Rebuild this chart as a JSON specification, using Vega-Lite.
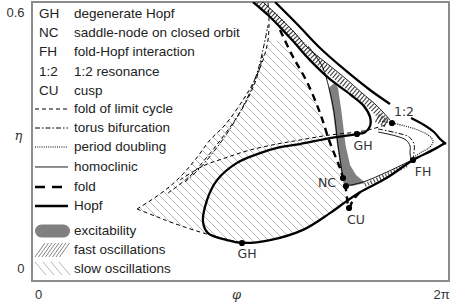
{
  "$schema": "https://vega.github.io/schema/vega-lite/v6.json",
  "width": 417,
  "height": 279,
  "autosize": {"type": "none"},
  "padding": {"left": 32, "top": 2, "right": 6, "bottom": 21},
  "background": "white",
  "config": {"view": {"stroke": "#8c8c8c", "strokeWidth": 2}, "font": "Liberation Sans"},
  "datasets": {
    "curves": [
      {"c":"H1","k":"hopf","i":1,"phi":3.330,"eta":0.600},
      {"c":"H1","k":"hopf","i":2,"phi":3.556,"eta":0.572},
      {"c":"H1","k":"hopf","i":3,"phi":3.737,"eta":0.546},
      {"c":"H1","k":"hopf","i":4,"phi":3.933,"eta":0.516},
      {"c":"H1","k":"hopf","i":5,"phi":4.189,"eta":0.475},
      {"c":"H1","k":"hopf","i":6,"phi":4.490,"eta":0.434},
      {"c":"H1","k":"hopf","i":7,"phi":4.807,"eta":0.400},
      {"c":"H1","k":"hopf","i":8,"phi":5.003,"eta":0.376},
      {"c":"H1","k":"hopf","i":9,"phi":5.093,"eta":0.353},
      {"c":"H1","k":"hopf","i":10,"phi":5.093,"eta":0.333},
      {"c":"H1","k":"hopf","i":11,"phi":5.018,"eta":0.320},
      {"c":"H1","k":"hopf","i":12,"phi":4.897,"eta":0.316},
      {"c":"H1","k":"hopf","i":13,"phi":4.490,"eta":0.3075},
      {"c":"H1","k":"hopf","i":14,"phi":4.038,"eta":0.2946},
      {"c":"H1","k":"hopf","i":15,"phi":3.737,"eta":0.288},
      {"c":"H1","k":"hopf","i":16,"phi":3.436,"eta":0.275},
      {"c":"H1","k":"hopf","i":17,"phi":3.089,"eta":0.254},
      {"c":"H1","k":"hopf","i":18,"phi":2.788,"eta":0.217},
      {"c":"H1","k":"hopf","i":19,"phi":2.637,"eta":0.174},
      {"c":"H1","k":"hopf","i":20,"phi":2.577,"eta":0.127},
      {"c":"H1","k":"hopf","i":21,"phi":2.652,"eta":0.103},
      {"c":"H1","k":"hopf","i":22,"phi":2.938,"eta":0.088},
      {"c":"H1","k":"hopf","i":23,"phi":3.164,"eta":0.082},
      {"c":"H1","k":"hopf","i":24,"phi":3.586,"eta":0.088},
      {"c":"H1","k":"hopf","i":25,"phi":4.083,"eta":0.110},
      {"c":"H1","k":"hopf","i":26,"phi":4.490,"eta":0.146},
      {"c":"H1","k":"hopf","i":27,"phi":4.761,"eta":0.174},
      {"c":"H1","k":"hopf","i":28,"phi":4.942,"eta":0.191},
      {"c":"H1","k":"hopf","i":29,"phi":5.349,"eta":0.222},
      {"c":"H1","k":"hopf","i":30,"phi":5.741,"eta":0.260},
      {"c":"H1","k":"hopf","i":31,"phi":6.042,"eta":0.282},
      {"c":"H1","k":"hopf","i":32,"phi":6.223,"eta":0.297},
      {"c":"H2","k":"hopf","i":1,"phi":3.662,"eta":0.600},
      {"c":"H2","k":"hopf","i":2,"phi":4.008,"eta":0.5505},
      {"c":"H2","k":"hopf","i":3,"phi":4.340,"eta":0.5011},
      {"c":"H2","k":"hopf","i":4,"phi":4.716,"eta":0.4538},
      {"c":"H2","k":"hopf","i":5,"phi":5.093,"eta":0.4107},
      {"c":"H2","k":"hopf","i":6,"phi":5.394,"eta":0.3806},
      {"c":"H3","k":"hopf","i":1,"phi":5.711,"eta":0.3505},
      {"c":"H3","k":"hopf","i":2,"phi":5.907,"eta":0.3355},
      {"c":"H3","k":"hopf","i":3,"phi":6.057,"eta":0.3204},
      {"c":"H3","k":"hopf","i":4,"phi":6.148,"eta":0.3054},
      {"c":"H3","k":"hopf","i":5,"phi":6.238,"eta":0.2946},
      {"c":"B1","k":"hom","i":1,"phi":3.481,"eta":0.600},
      {"c":"B1","k":"hom","i":2,"phi":3.737,"eta":0.5656},
      {"c":"B1","k":"hom","i":3,"phi":3.963,"eta":0.5333},
      {"c":"B1","k":"hom","i":4,"phi":4.144,"eta":0.5032},
      {"c":"B1","k":"hom","i":5,"phi":4.415,"eta":0.4710},
      {"c":"B1","k":"hom","i":6,"phi":4.716,"eta":0.4366},
      {"c":"B1","k":"hom","i":7,"phi":4.972,"eta":0.4043},
      {"c":"B1","k":"hom","i":8,"phi":5.168,"eta":0.3806},
      {"c":"B1","k":"hom","i":9,"phi":5.289,"eta":0.3634},
      {"c":"B1","k":"hom","i":10,"phi":5.394,"eta":0.3462},
      {"c":"N1","k":"hom","i":1,"phi":4.159,"eta":0.5054},
      {"c":"N1","k":"hom","i":2,"phi":4.370,"eta":0.4624},
      {"c":"N1","k":"hom","i":3,"phi":4.475,"eta":0.4150},
      {"c":"N1","k":"hom","i":4,"phi":4.551,"eta":0.3634},
      {"c":"N1","k":"hom","i":5,"phi":4.611,"eta":0.2925},
      {"c":"N1","k":"hom","i":6,"phi":4.686,"eta":0.2215},
      {"c":"N2","k":"hom","i":1,"phi":4.731,"eta":0.2043},
      {"c":"N2","k":"hom","i":2,"phi":4.988,"eta":0.2129},
      {"c":"N2","k":"hom","i":3,"phi":5.349,"eta":0.2344},
      {"c":"N2","k":"hom","i":4,"phi":5.696,"eta":0.2581},
      {"c":"FD","k":"fold","i":1,"phi":3.737,"eta":0.5398},
      {"c":"FD","k":"fold","i":2,"phi":3.918,"eta":0.4860},
      {"c":"FD","k":"fold","i":3,"phi":4.144,"eta":0.4279},
      {"c":"FD","k":"fold","i":4,"phi":4.340,"eta":0.3613},
      {"c":"FD","k":"fold","i":5,"phi":4.475,"eta":0.3032},
      {"c":"FD","k":"fold","i":6,"phi":4.581,"eta":0.2645},
      {"c":"FD","k":"fold","i":7,"phi":4.641,"eta":0.2430},
      {"c":"FD","k":"fold","i":8,"phi":4.686,"eta":0.2215},
      {"c":"FD","k":"fold","i":9,"phi":4.731,"eta":0.1957},
      {"c":"FD","k":"fold","i":10,"phi":4.777,"eta":0.1570},
      {"c":"FD","k":"fold","i":11,"phi":4.837,"eta":0.1742},
      {"c":"FD","k":"fold","i":12,"phi":4.988,"eta":0.1978},
      {"c":"F1","k":"flc","i":1,"phi":1.582,"eta":0.1548},
      {"c":"F1","k":"flc","i":2,"phi":1.929,"eta":0.1871},
      {"c":"F1","k":"flc","i":3,"phi":2.185,"eta":0.2172},
      {"c":"F1","k":"flc","i":4,"phi":2.456,"eta":0.2602},
      {"c":"F1","k":"flc","i":5,"phi":2.682,"eta":0.3032},
      {"c":"F1","k":"flc","i":6,"phi":2.908,"eta":0.3355},
      {"c":"F1","k":"flc","i":7,"phi":3.179,"eta":0.3892},
      {"c":"F1","k":"flc","i":8,"phi":3.330,"eta":0.4258},
      {"c":"F1","k":"flc","i":9,"phi":3.481,"eta":0.4753},
      {"c":"F1","k":"flc","i":10,"phi":3.556,"eta":0.5183},
      {"c":"F1","k":"flc","i":11,"phi":3.571,"eta":0.5613},
      {"c":"F1","k":"flc","i":12,"phi":3.556,"eta":0.600},
      {"c":"F4","k":"flc","i":1,"phi":1.582,"eta":0.1548},
      {"c":"F4","k":"flc","i":2,"phi":1.853,"eta":0.1398},
      {"c":"F4","k":"flc","i":3,"phi":2.125,"eta":0.1247},
      {"c":"F4","k":"flc","i":4,"phi":2.682,"eta":0.0989},
      {"c":"F4","k":"flc","i":5,"phi":3.164,"eta":0.0817},
      {"c":"F3","k":"flc","i":1,"phi":2.230,"eta":0.2172},
      {"c":"F3","k":"flc","i":2,"phi":2.577,"eta":0.2473},
      {"c":"F3","k":"flc","i":3,"phi":2.908,"eta":0.2645},
      {"c":"F3","k":"flc","i":4,"phi":3.285,"eta":0.2817},
      {"c":"F3","k":"flc","i":5,"phi":3.692,"eta":0.2946},
      {"c":"F3","k":"flc","i":6,"phi":4.038,"eta":0.3032},
      {"c":"F3","k":"flc","i":7,"phi":4.490,"eta":0.3140},
      {"c":"F3","k":"flc","i":8,"phi":4.897,"eta":0.3204},
      {"c":"F3","k":"flc","i":9,"phi":5.123,"eta":0.3269},
      {"c":"F3","k":"flc","i":10,"phi":5.319,"eta":0.3355},
      {"c":"F2","k":"flc","i":1,"phi":2.049,"eta":0.1892},
      {"c":"F2","k":"flc","i":2,"phi":2.381,"eta":0.2258},
      {"c":"F2","k":"flc","i":3,"phi":2.637,"eta":0.2667},
      {"c":"F2","k":"flc","i":4,"phi":2.863,"eta":0.3075},
      {"c":"F2","k":"flc","i":5,"phi":3.059,"eta":0.3462},
      {"c":"F2","k":"flc","i":6,"phi":3.225,"eta":0.3849},
      {"c":"F2","k":"flc","i":7,"phi":3.375,"eta":0.4323},
      {"c":"F2","k":"flc","i":8,"phi":3.481,"eta":0.4860},
      {"c":"T1","k":"torus","i":1,"phi":2.305,"eta":0.2129},
      {"c":"T1","k":"torus","i":2,"phi":2.531,"eta":0.2430},
      {"c":"T1","k":"torus","i":3,"phi":2.757,"eta":0.2817},
      {"c":"T1","k":"torus","i":4,"phi":2.953,"eta":0.3204},
      {"c":"T1","k":"torus","i":5,"phi":3.134,"eta":0.3634},
      {"c":"T1","k":"torus","i":6,"phi":3.285,"eta":0.4064},
      {"c":"T1","k":"torus","i":7,"phi":3.405,"eta":0.4538},
      {"c":"T1","k":"torus","i":8,"phi":3.496,"eta":0.5075},
      {"c":"T1","k":"torus","i":9,"phi":3.556,"eta":0.5505},
      {"c":"P1","k":"pd","i":1,"phi":5.244,"eta":0.3441},
      {"c":"P1","k":"pd","i":2,"phi":5.424,"eta":0.3398},
      {"c":"P1","k":"pd","i":3,"phi":5.620,"eta":0.3333},
      {"c":"P1","k":"pd","i":4,"phi":5.816,"eta":0.3247},
      {"c":"P1","k":"pd","i":5,"phi":5.967,"eta":0.3140},
      {"c":"P1","k":"pd","i":6,"phi":6.042,"eta":0.3011},
      {"c":"P1","k":"pd","i":7,"phi":5.997,"eta":0.2882},
      {"c":"P1","k":"pd","i":8,"phi":5.846,"eta":0.2753},
      {"c":"P1","k":"pd","i":9,"phi":5.741,"eta":0.2645},
      {"c":"T2","k":"torus","i":1,"phi":5.214,"eta":0.3269},
      {"c":"T2","k":"torus","i":2,"phi":5.500,"eta":0.3183},
      {"c":"T2","k":"torus","i":3,"phi":5.681,"eta":0.3097},
      {"c":"T2","k":"torus","i":4,"phi":5.756,"eta":0.2946},
      {"c":"T2","k":"torus","i":5,"phi":5.756,"eta":0.2774},
      {"c":"T2","k":"torus","i":6,"phi":5.741,"eta":0.2602},
      {"c":"N3","k":"hom","i":1,"phi":5.214,"eta":0.3204},
      {"c":"N3","k":"hom","i":2,"phi":5.485,"eta":0.3118},
      {"c":"N3","k":"hom","i":3,"phi":5.635,"eta":0.3032},
      {"c":"N3","k":"hom","i":4,"phi":5.696,"eta":0.2903},
      {"c":"N3","k":"hom","i":5,"phi":5.696,"eta":0.2753},
      {"c":"N3","k":"hom","i":6,"phi":5.711,"eta":0.2602},
      {"c":"L1","k":"flc","i":1,"phi":0.045,"eta":0.3699},
      {"c":"L1","k":"flc","i":2,"phi":0.542,"eta":0.3699},
      {"c":"L2","k":"torus","i":1,"phi":0.045,"eta":0.3290},
      {"c":"L2","k":"torus","i":2,"phi":0.542,"eta":0.3290},
      {"c":"L3","k":"pd","i":1,"phi":0.045,"eta":0.2882},
      {"c":"L3","k":"pd","i":2,"phi":0.542,"eta":0.2882},
      {"c":"L4","k":"hom","i":1,"phi":0.045,"eta":0.2452},
      {"c":"L4","k":"hom","i":2,"phi":0.542,"eta":0.2452},
      {"c":"L5","k":"foldL","i":1,"phi":0.045,"eta":0.2021},
      {"c":"L5","k":"foldL","i":2,"phi":0.467,"eta":0.2021},
      {"c":"L6","k":"hopf","i":1,"phi":0.045,"eta":0.1613},
      {"c":"L6","k":"hopf","i":2,"phi":0.542,"eta":0.1613}
    ],
    "ladders": [
      {"c":"U","i":1,"phi":3.405,"eta":0.600},
      {"c":"U","i":2,"phi":3.646,"eta":0.5699},
      {"c":"U","i":3,"phi":3.857,"eta":0.5398},
      {"c":"U","i":4,"phi":4.053,"eta":0.5097},
      {"c":"U","i":5,"phi":4.294,"eta":0.4753},
      {"c":"U","i":6,"phi":4.611,"eta":0.4366},
      {"c":"U","i":7,"phi":4.882,"eta":0.4043},
      {"c":"U","i":8,"phi":5.078,"eta":0.3806},
      {"c":"U","i":9,"phi":5.214,"eta":0.3613},
      {"c":"U","i":10,"phi":5.334,"eta":0.3441},
      {"c":"L","i":1,"phi":5.018,"eta":0.2064},
      {"c":"L","i":2,"phi":5.349,"eta":0.2280},
      {"c":"L","i":3,"phi":5.651,"eta":0.2495},
      {"c":"T","i":1,"phi":5.199,"eta":0.3505},
      {"c":"T","i":2,"phi":5.364,"eta":0.3376}
    ],
    "excite": [
      {"eta":0.4236,"phi":4.536,"phi2":4.566},
      {"eta":0.4150,"phi":4.468,"phi2":4.611},
      {"eta":0.3634,"phi":4.536,"phi2":4.664},
      {"eta":0.2925,"phi":4.596,"phi2":4.724},
      {"eta":0.2495,"phi":4.641,"phi2":4.792},
      {"eta":0.2280,"phi":4.664,"phi2":4.882},
      {"eta":0.2172,"phi":4.683,"phi2":4.972},
      {"eta":0.2107,"phi":4.694,"phi2":5.018},
      {"eta":0.2043,"phi":4.724,"phi2":4.822}
    ],
    "slowhatch": [
      {"phi":1.618,"eta":0.1583,"phi2":1.680,"eta2":0.1495},
      {"phi":1.692,"eta":0.1649,"phi2":1.878,"eta2":0.1385},
      {"phi":1.764,"eta":0.1718,"phi2":2.075,"eta2":0.1275},
      {"phi":1.837,"eta":0.1787,"phi2":2.259,"eta2":0.1185},
      {"phi":1.911,"eta":0.1854,"phi2":2.437,"eta2":0.1103},
      {"phi":1.978,"eta":0.1929,"phi2":2.616,"eta2":0.1019},
      {"phi":2.045,"eta":0.2006,"phi2":2.783,"eta2":0.0953},
      {"phi":2.111,"eta":0.2084,"phi2":2.943,"eta2":0.0897},
      {"phi":2.177,"eta":0.2161,"phi2":3.104,"eta2":0.0839},
      {"phi":2.235,"eta":0.2252,"phi2":3.232,"eta2":0.0828},
      {"phi":2.292,"eta":0.2342,"phi2":3.341,"eta2":0.0845},
      {"phi":2.349,"eta":0.2432,"phi2":3.451,"eta2":0.0860},
      {"phi":2.406,"eta":0.2523,"phi2":3.559,"eta2":0.0877},
      {"phi":2.462,"eta":0.2615,"phi2":3.656,"eta2":0.0912},
      {"phi":2.515,"eta":0.2712,"phi2":3.747,"eta2":0.0953},
      {"phi":2.566,"eta":0.2811,"phi2":3.841,"eta2":0.0991},
      {"phi":2.617,"eta":0.2910,"phi2":3.933,"eta2":0.1032},
      {"phi":2.669,"eta":0.3009,"phi2":4.026,"eta2":0.1071},
      {"phi":2.727,"eta":0.3097,"phi2":4.111,"eta2":0.1123},
      {"phi":2.788,"eta":0.3183,"phi2":4.185,"eta2":0.1188},
      {"phi":2.848,"eta":0.3269,"phi2":4.260,"eta2":0.1254},
      {"phi":2.908,"eta":0.3355,"phi2":4.334,"eta2":0.1320},
      {"phi":2.958,"eta":0.3456,"phi2":4.407,"eta2":0.1387},
      {"phi":3.009,"eta":0.3555,"phi2":4.481,"eta2":0.1454},
      {"phi":3.059,"eta":0.3656,"phi2":4.552,"eta2":0.1525},
      {"phi":3.110,"eta":0.3755,"phi2":4.623,"eta2":0.1596},
      {"phi":3.160,"eta":0.3856,"phi2":4.694,"eta2":0.1667},
      {"phi":3.208,"eta":0.3959,"phi2":4.740,"eta2":0.1772},
      {"phi":3.252,"eta":0.4069,"phi2":4.715,"eta2":0.1981},
      {"phi":3.297,"eta":0.4176,"phi2":4.689,"eta2":0.2189},
      {"phi":3.339,"eta":0.4288,"phi2":4.620,"eta2":0.2460},
      {"phi":3.375,"eta":0.4409,"phi2":4.526,"eta2":0.2766},
      {"phi":3.413,"eta":0.4527,"phi2":4.453,"eta2":0.3043},
      {"phi":3.449,"eta":0.4647,"phi2":4.398,"eta2":0.3292},
      {"phi":3.484,"eta":0.4770,"phi2":4.356,"eta2":0.3525},
      {"phi":3.508,"eta":0.4907,"phi2":4.281,"eta2":0.3804},
      {"phi":3.532,"eta":0.5045,"phi2":4.193,"eta2":0.4101},
      {"phi":3.556,"eta":0.5183,"phi2":4.105,"eta2":0.4400},
      {"phi":3.693,"eta":0.5159,"phi2":3.948,"eta2":0.4796},
      {"phi":0.045,"eta":0.0409,"phi2":0.211,"eta2":0.0129},
      {"phi":0.166,"eta":0.0409,"phi2":0.332,"eta2":0.0129},
      {"phi":0.286,"eta":0.0409,"phi2":0.452,"eta2":0.0129},
      {"phi":0.407,"eta":0.0409,"phi2":0.573,"eta2":0.0129}
    ],
    "fasthatch": [
      {"phi":0.045,"eta":0.0516,"phi2":0.196,"eta2":0.0817},
      {"phi":0.098,"eta":0.0516,"phi2":0.249,"eta2":0.0817},
      {"phi":0.151,"eta":0.0516,"phi2":0.301,"eta2":0.0817},
      {"phi":0.203,"eta":0.0516,"phi2":0.354,"eta2":0.0817},
      {"phi":0.256,"eta":0.0516,"phi2":0.407,"eta2":0.0817},
      {"phi":0.309,"eta":0.0516,"phi2":0.460,"eta2":0.0817},
      {"phi":0.362,"eta":0.0516,"phi2":0.512,"eta2":0.0817},
      {"phi":0.414,"eta":0.0516,"phi2":0.565,"eta2":0.0817}
    ],
    "blob": [
      {"i":1,"phi":0.143,"eta":0.1075},
      {"i":2,"phi":0.475,"eta":0.1075}
    ],
    "points": [
      {"p":"GH","phi":3.164,"eta":0.0817},
      {"p":"GH","phi":4.897,"eta":0.3161},
      {"p":"NC","phi":4.686,"eta":0.2215},
      {"p":"NC","phi":4.731,"eta":0.2043},
      {"p":"CU","phi":4.777,"eta":0.1570},
      {"p":"FH","phi":5.741,"eta":0.2602},
      {"p":"1:2","phi":5.424,"eta":0.3398}
    ],
    "plabels": [
      {"t":"GH","phi":3.240,"eta":0.0581},
      {"t":"GH","phi":4.988,"eta":0.2903},
      {"t":"NC","phi":4.445,"eta":0.2107},
      {"t":"CU","phi":4.882,"eta":0.1312},
      {"t":"FH","phi":5.892,"eta":0.2344},
      {"t":"1:2","phi":5.605,"eta":0.3634}
    ],
    "legend": [
      {"t":"GH","phi":0.105,"eta":0.5742},
      {"t":"NC","phi":0.105,"eta":0.5333},
      {"t":"FH","phi":0.105,"eta":0.4925},
      {"t":"1:2","phi":0.105,"eta":0.4494},
      {"t":"CU","phi":0.105,"eta":0.4086},
      {"t":"degenerate Hopf","phi":0.633,"eta":0.5742},
      {"t":"saddle-node on closed orbit","phi":0.633,"eta":0.5333},
      {"t":"fold-Hopf interaction","phi":0.633,"eta":0.4925},
      {"t":"1:2 resonance","phi":0.633,"eta":0.4494},
      {"t":"cusp","phi":0.633,"eta":0.4086},
      {"t":"fold of limit cycle","phi":0.633,"eta":0.3699},
      {"t":"torus bifurcation","phi":0.633,"eta":0.3290},
      {"t":"period doubling","phi":0.633,"eta":0.2882},
      {"t":"homoclinic","phi":0.633,"eta":0.2452},
      {"t":"fold","phi":0.633,"eta":0.2021},
      {"t":"Hopf","phi":0.633,"eta":0.1613},
      {"t":"excitability","phi":0.633,"eta":0.1075},
      {"t":"fast oscillations","phi":0.633,"eta":0.0667},
      {"t":"slow oscillations","phi":0.633,"eta":0.0258}
    ]
  },
  "encoding": {
    "x": {
      "field": "phi", "type": "quantitative",
      "scale": {"domain": [0, 6.283185], "nice": false, "zero": false},
      "axis": {
        "values": [0, 6.283185],
        "labelExpr": "datum.value < 1 ? '0' : '2π'",
        "ticks": false, "domain": false, "grid": false,
        "labelFont": "Liberation Sans", "labelFontSize": 13, "labelColor": "#333333",
        "labelBaseline": "middle", "labelPadding": 13, "labelAlign": "center",
        "labelOffset": {"expr": "datum.value < 1 ? 6 : -8"},
        "labelFlush": false, "labelOverlap": false, "labelBound": false,
        "title": "φ", "titleFont": "DejaVu Serif", "titleFontStyle": "italic",
        "titleFontWeight": "normal", "titleFontSize": 13, "titleColor": "#333333",
        "titleX": 204, "titleY": 13, "titleBaseline": "middle", "titleAlign": "center"
      }
    },
    "y": {
      "field": "eta", "type": "quantitative",
      "scale": {"domain": [0, 0.6], "nice": false, "zero": false},
      "axis": {
        "values": [0, 0.6],
        "labelExpr": "datum.value < 0.3 ? '0' : '0.6'",
        "ticks": false, "domain": false, "grid": false,
        "labelFont": "Liberation Sans", "labelFontSize": 13, "labelColor": "#333333",
        "labelAlign": "right", "labelBaseline": "middle", "labelPadding": 8,
        "labelOffset": {"expr": "datum.value < 0.3 ? -13 : 10"},
        "labelFlush": false, "labelOverlap": false, "labelBound": false,
        "title": "η", "titleAngle": 0, "titleX": -14, "titleY": 133,
        "titleFont": "DejaVu Serif", "titleFontStyle": "italic", "titleFontWeight": "normal",
        "titleFontSize": 13, "titleColor": "#333333", "titleAlign": "center", "titleBaseline": "middle"
      }
    }
  },
  "layer": [
    {
      "data": {"name": "slowhatch"},
      "mark": {"type": "rule", "color": "#a6a6a6", "strokeWidth": 0.8, "clip": true},
      "encoding": {"x2": {"field": "phi2"}, "y2": {"field": "eta2"}}
    },
    {
      "data": {"name": "fasthatch"},
      "mark": {"type": "rule", "color": "#666666", "strokeWidth": 0.8},
      "encoding": {"x2": {"field": "phi2"}, "y2": {"field": "eta2"}}
    },
    {
      "data": {"name": "excite"},
      "mark": {"type": "area", "orient": "horizontal", "color": "#808080", "opacity": 1},
      "encoding": {"x2": {"field": "phi2"}}
    },
    {
      "data": {"name": "ladders"},
      "transform": [{"filter": {"field": "c", "equal": "U"}}],
      "mark": {"type": "line", "interpolate": "catmull-rom", "color": "#4a4a4a", "strokeDash": [1.2, 2], "strokeWidth": 7, "clip": true},
      "encoding": {"order": {"field": "i", "type": "quantitative"}}
    },
    {
      "data": {"name": "ladders"},
      "transform": [{"filter": {"field": "c", "equal": "L"}}],
      "mark": {"type": "line", "interpolate": "catmull-rom", "color": "#4a4a4a", "strokeDash": [1.2, 2], "strokeWidth": 4, "clip": true},
      "encoding": {"order": {"field": "i", "type": "quantitative"}}
    },
    {
      "data": {"name": "ladders"},
      "transform": [{"filter": {"field": "c", "equal": "T"}}],
      "mark": {"type": "line", "color": "#4a4a4a", "strokeDash": [1.2, 2], "strokeWidth": 9, "clip": true},
      "encoding": {"order": {"field": "i", "type": "quantitative"}}
    },
    {
      "data": {"name": "blob"},
      "mark": {"type": "line", "color": "#808080", "strokeWidth": 13, "strokeCap": "round"},
      "encoding": {"order": {"field": "i", "type": "quantitative"}}
    },
    {
      "data": {"name": "curves"},
      "transform": [{"filter": {"field": "k", "equal": "hopf"}}],
      "mark": {"type": "line", "interpolate": "catmull-rom", "color": "black", "strokeWidth": 2.3, "clip": true},
      "encoding": {"detail": {"field": "c"}, "order": {"field": "i", "type": "quantitative"}}
    },
    {
      "data": {"name": "curves"},
      "transform": [{"filter": {"field": "k", "equal": "fold"}}],
      "mark": {"type": "line", "interpolate": "catmull-rom", "color": "black", "strokeWidth": 2.4, "strokeDash": [7, 5], "clip": true},
      "encoding": {"detail": {"field": "c"}, "order": {"field": "i", "type": "quantitative"}}
    },
    {
      "data": {"name": "curves"},
      "transform": [{"filter": {"field": "k", "equal": "foldL"}}],
      "mark": {"type": "line", "color": "black", "strokeWidth": 2.4, "strokeDash": [10, 7], "clip": true},
      "encoding": {"detail": {"field": "c"}, "order": {"field": "i", "type": "quantitative"}}
    },
    {
      "data": {"name": "curves"},
      "transform": [{"filter": {"field": "k", "equal": "flc"}}],
      "mark": {"type": "line", "interpolate": "catmull-rom", "color": "black", "strokeWidth": 1, "strokeDash": [4, 3], "clip": true},
      "encoding": {"detail": {"field": "c"}, "order": {"field": "i", "type": "quantitative"}}
    },
    {
      "data": {"name": "curves"},
      "transform": [{"filter": {"field": "k", "equal": "torus"}}],
      "mark": {"type": "line", "interpolate": "catmull-rom", "color": "black", "strokeWidth": 1, "strokeDash": [5, 2, 1.5, 2], "clip": true},
      "encoding": {"detail": {"field": "c"}, "order": {"field": "i", "type": "quantitative"}}
    },
    {
      "data": {"name": "curves"},
      "transform": [{"filter": {"field": "k", "equal": "pd"}}],
      "mark": {"type": "line", "interpolate": "catmull-rom", "color": "black", "strokeWidth": 1.1, "strokeDash": [1, 1.2], "clip": true},
      "encoding": {"detail": {"field": "c"}, "order": {"field": "i", "type": "quantitative"}}
    },
    {
      "data": {"name": "curves"},
      "transform": [{"filter": {"field": "k", "equal": "hom"}}],
      "mark": {"type": "line", "interpolate": "catmull-rom", "color": "black", "strokeWidth": 0.9, "clip": true},
      "encoding": {"detail": {"field": "c"}, "order": {"field": "i", "type": "quantitative"}}
    },
    {
      "data": {"name": "points"},
      "mark": {"type": "circle", "size": 38, "color": "black", "opacity": 1}
    },
    {
      "data": {"name": "plabels"},
      "mark": {"type": "text", "font": "DejaVu Sans", "fontSize": 12.5, "color": "#333333", "align": "center", "baseline": "middle"},
      "encoding": {"text": {"field": "t"}}
    },
    {
      "data": {"name": "legend"},
      "mark": {"type": "text", "font": "Liberation Sans", "fontSize": 13.5, "color": "#222222", "align": "left", "baseline": "middle"},
      "encoding": {"text": {"field": "t"}}
    }
  ]
}
